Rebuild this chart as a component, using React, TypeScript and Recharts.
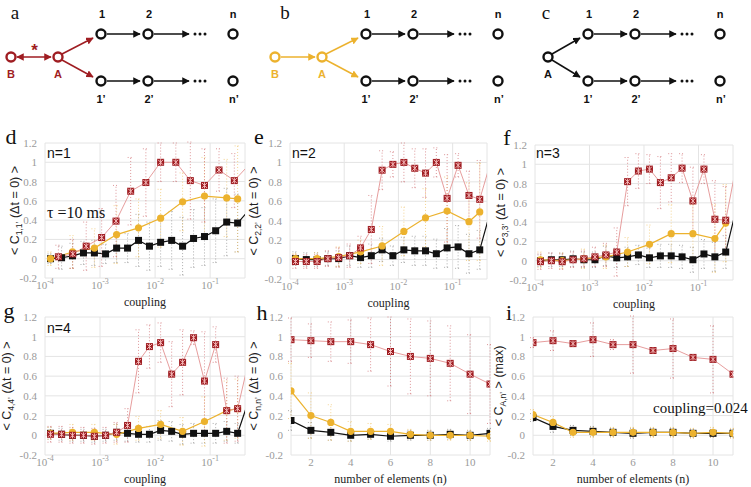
import React from "react";
import { LineChart, Line, XAxis, YAxis, CartesianGrid, ErrorBar } from "recharts";

const RED = "#9f1d22";
const RED_LINE = "#e39292";
const RED_BAR = "#cf6a6e";
const YELLOW = "#ecb22e";
const BLACK = "#111111";
const GRID = "#e4e4e4";
const TICK = "#9a9a9a";

const COUPLING_MAX = 0.43;

// tick labels
const couplingTicks = [1e-4, 1e-3, 1e-2, 1e-1];
const valueTicks = [-0.2, 0, 0.2, 0.4, 0.6, 0.8, 1, 1.2];
const elementTicks = [2, 4, 6, 8, 10];

// x values
const couplingGrid = [1.26e-4, 2e-4, 3.16e-4, 5e-4, 7.9e-4, 1.26e-3, 2e-3, 3.16e-3, 5e-3, 7.9e-3, 0.0126, 0.02, 0.0316, 0.05, 0.079, 0.126, 0.2, 0.316, 0.5];
const couplingHalf = [1.26e-4, 3.16e-4, 7.9e-4, 2e-3, 5e-3, 0.0126, 0.0316, 0.079, 0.2, 0.316];
const couplingRedD = [1.75e-4, 3.2e-4, 5.6e-4, 1.07e-3, 1.95e-3, 3.6e-3, 6.8e-3, 0.0126, 0.0238, 0.0437, 0.079, 0.145, 0.275, 0.5];
const elements = [1, 2, 3, 4, 5, 6, 7, 8, 9, 10, 11];

// d: n=1
const dBlack = [0.0, 0.01, 0.03, 0.06, 0.06, 0.05, 0.11, 0.11, 0.19, 0.13, 0.17, 0.19, 0.13, 0.21, 0.23, 0.29, 0.38, 0.37, 0.5];
const dBlackErr = [0.05, 0.12, 0.13, 0.12, 0.13, 0.1, 0.15, 0.15, 0.27, 0.25, 0.25, 0.3, 0.3, 0.3, 0.3, 0.33, 0.35, 0.3];
const dYellow = [0.0, 0.07, 0.11, 0.25, 0.32, 0.42, 0.59, 0.65, 0.63, 0.62];
const dYellowErr = [0.07, 0.17, 0.2, 0.3, 0.3, 0.3, 0.3, 0.4, 0.4, 0.55];
const dRed = [0.02, 0.05, 0.13, 0.22, 0.39, 0.7, 0.79, 1.0, 1.0, 0.81, 0.76, 0.92, 0.81, 0.97];
const dRedErr = [0.12, 0.15, 0.25, 0.3, 0.37, 0.35, 0.35, 0.2, 0.2, 0.4, 0.38, 0.22, 0.28];

// e: n=2
const eBlack = [0.01, 0.0, 0.0, 0.01, 0.01, 0.04, 0.02, 0.04, 0.1, 0.04, 0.1, 0.09, 0.09, 0.06, 0.12, 0.13, 0.06, 0.1, 0.5];
const eBlackErr = [0.07, 0.07, 0.07, 0.07, 0.08, 0.1, 0.1, 0.12, 0.12, 0.1, 0.13, 0.15, 0.15, 0.15, 0.2, 0.22, 0.2, 0.2];
const eYellow = [0.01, 0.01, 0.03, 0.08, 0.14, 0.29, 0.43, 0.5, 0.39, 0.49];
const eYellowErr = [0.05, 0.06, 0.1, 0.12, 0.2, 0.25, 0.3, 0.35, 0.4, 0.5];
const eRed = [-0.02, -0.02, -0.02, 0.01, 0.02, 0.04, 0.12, 0.31, 0.92, 0.98, 1.0, 0.94, 0.89, 1.0, 0.63, 0.97, 0.66, 0.62, 1.0];
const eRedErr = [0.07, 0.07, 0.07, 0.08, 0.1, 0.12, 0.12, 0.35, 0.2, 0.13, 0.2, 0.2, 0.25, 0.15, 0.45, 0.12, 0.25, 0.4];

// f: n=3
const fBlack = [0.0, 0.01, 0.01, 0.02, 0.01, 0.01, 0.05, 0.03, 0.04, 0.06, 0.03, 0.05, 0.05, 0.04, 0.01, 0.07, 0.04, 0.09, 0.55];
const fBlackErr = [0.06, 0.07, 0.07, 0.08, 0.08, 0.08, 0.1, 0.1, 0.1, 0.1, 0.1, 0.12, 0.12, 0.12, 0.13, 0.15, 0.15, 0.17];
const fYellow = [0.01, 0.0, 0.02, 0.04, 0.09, 0.17, 0.28, 0.28, 0.23, 0.39];
const fYellowErr = [0.08, 0.08, 0.1, 0.12, 0.15, 0.2, 0.3, 0.3, 0.35, 0.4];
const fRed = [-0.01, 0.0, -0.01, 0.01, 0.02, 0.04, 0.06, 0.09, 0.82, 0.93, 0.95, 0.81, 0.86, 0.96, 0.62, 0.95, 0.43, 0.42, 1.0];
const fRedErr = [0.08, 0.08, 0.08, 0.08, 0.08, 0.1, 0.12, 0.25, 0.25, 0.18, 0.15, 0.27, 0.25, 0.15, 0.35, 0.15, 0.4, 0.35];

// g: n=4
const gBlack = [0.02, 0.01, 0.0, 0.0, -0.01, 0.0, 0.03, 0.02, 0.01, 0.01, 0.05, 0.04, 0.01, 0.02, 0.02, 0.02, 0.04, 0.02, 0.35];
const gBlackErr = [0.06, 0.06, 0.06, 0.06, 0.06, 0.06, 0.08, 0.08, 0.08, 0.08, 0.1, 0.1, 0.1, 0.1, 0.1, 0.1, 0.1, 0.1];
const gYellow = [0.02, 0.03, 0.03, 0.01, 0.07, 0.11, 0.04, 0.14, 0.25, 0.27];
const gYellowErr = [0.06, 0.08, 0.08, 0.1, 0.12, 0.14, 0.14, 0.25, 0.3, 0.3];
const gRed = [0.01, 0.01, 0.0, 0.0, -0.01, 0.0, 0.03, 0.1, 0.75, 0.9, 0.94, 0.62, 0.74, 0.99, 0.55, 0.92, 0.25, 0.27, 0.75];
const gRedErr = [0.08, 0.08, 0.08, 0.08, 0.08, 0.08, 0.1, 0.17, 0.32, 0.22, 0.2, 0.33, 0.33, 0.07, 0.5, 0.18, 0.33, 0.33];

// h: vs number of elements
const hBlack = [0.15, 0.05, 0.03, 0.0, 0.01, -0.01, 0.0, 0.0, 0.01, 0.0, 0.02];
const hBlackErr = [0.1, 0.08, 0.08, 0.06, 0.05, 0.05, 0.05, 0.05, 0.05, 0.05, 0.05];
const hYellow = [0.45, 0.2, 0.13, 0.04, 0.04, 0.04, 0.01, 0.0, 0.0, 0.0, -0.01];
const hYellowErr = [0.28, 0.23, 0.18, 0.1, 0.08, 0.07, 0.05, 0.05, 0.05, 0.05, 0.05];
const hRed = [0.97, 0.96, 0.95, 0.95, 0.92, 0.85, 0.8, 0.78, 0.73, 0.62, 0.52];
const hRedErr = [0.22, 0.17, 0.2, 0.22, 0.27, 0.35, 0.38, 0.38, 0.38, 0.4, 0.4];

// i: max correlation with A, coupling = 0.024
const iBlack = [0.18, 0.09, 0.05, 0.04, 0.03, 0.02, 0.03, 0.03, 0.02, 0.02, 0.02];
const iBlackErr = [0.04, 0.06, 0.05, 0.05, 0.04, 0.05, 0.04, 0.04, 0.04, 0.04, 0.04];
const iYellow = [0.21, 0.13, 0.03, 0.03, 0.03, 0.03, 0.03, 0.03, 0.02, 0.03, 0.02];
const iYellowErr = [0.05, 0.06, 0.05, 0.05, 0.05, 0.05, 0.05, 0.05, 0.05, 0.05, 0.05];
const iRed = [0.94, 0.96, 0.93, 0.97, 0.92, 0.92, 0.86, 0.88, 0.79, 0.77, 0.62];
const iRedErr = [0.05, 0.1, 0.03, 0.17, 0.05, 0.29, 0.03, 0.3, 0.03, 0.34, 0.03];

type Row = { x: number; y: number; e: number };
const rows = (xs: number[], ys: number[], es: number[]): Row[] =>
  ys.map((y, i) => ({ x: xs[i], y, e: es[i] ?? 0 }));

const squareDot = (xMax: number) => (p: any) => {
  const { cx, cy, payload, index } = p;
  if (payload.x > xMax || cx == null) return <g key={index} />;
  return <rect key={index} x={cx - 3.5} y={cy - 3.5} width={7} height={7} fill={BLACK} />;
};
const circleDot = (xMax: number) => (p: any) => {
  const { cx, cy, payload, index } = p;
  if (payload.x > xMax || cx == null) return <g key={index} />;
  return <circle key={index} cx={cx} cy={cy} r={3.6} fill={YELLOW} />;
};
const starDot = (xMax: number) => (p: any) => {
  const { cx, cy, payload, index } = p;
  if (payload.x > xMax || cx == null) return <g key={index} />;
  return (
    <g key={index}>
      <rect x={cx - 3.5} y={cy - 3.5} width={7} height={7} fill={RED} />
      <path
        d={`M${cx - 2.5},${cy - 2.5}L${cx + 2.5},${cy + 2.5}M${cx - 2.5},${cy + 2.5}L${cx + 2.5},${cy - 2.5}M${cx},${cy - 3}L${cx},${cy + 3}`}
        stroke="#f4b9b9"
        strokeWidth={1}
      />
    </g>
  );
};

const LogTick = (props: any) => {
  const { x, y, payload } = props;
  const exp = Math.round(Math.log10(payload.value));
  return (
    <text x={x} y={y + 3} textAnchor="middle" fill={TICK} fontFamily="Liberation Serif" fontSize={11}>
      10<tspan dy={-5} fontSize={8}>{exp}</tspan>
    </text>
  );
};

const PlainTick = (props: any) => {
  const { x, y, payload } = props;
  return (
    <text x={x} y={y + 3} textAnchor="middle" fill={TICK} fontFamily="Liberation Serif" fontSize={11}>
      {payload.value}
    </text>
  );
};

const ValueTick = (props: any) => {
  const { x, y, payload } = props;
  return (
    <text x={x} y={y + 4} textAnchor="end" fill={TICK} fontFamily="Liberation Serif" fontSize={11}>
      {String(payload.value)}
    </text>
  );
};

// the axis never shows its lowest tick here, so that label is written beside the panel
const axisTicks = valueTicks.filter((v) => v >= 0);
const bottomTick = valueTicks[0];

type PanelProps = {
  plotLeft: number;
  plotTop: number;
  plotRight: number;
  plotBottom: number;
  log: boolean;
  black: Row[];
  yellow: Row[];
  red: Row[];
  sub: string;
  tail: string;
  yLabelX: number;
  xLabel: string;
};

function Panel(p: PanelProps) {
  const left = p.plotLeft - 45;
  const top = p.plotTop - 10;
  const width = p.plotRight + 6 - left;
  const height = p.plotBottom + 34 - top;
  const xMax = p.log ? COUPLING_MAX : 11;
  const lx = p.yLabelX - left;
  const ly = (p.plotTop + p.plotBottom) / 2 - top;
  const xx = (p.plotLeft + p.plotRight) / 2 - left;
  const xy = p.plotBottom + 28 - top;
  const xLabel = () => (
    <text x={xx} y={xy} textAnchor="middle" fontFamily="Liberation Serif" fontSize={12} fill="#222">
      {p.xLabel}
    </text>
  );
  return (
    <div style={{ position: "absolute", left, top, width, height }}>
      <LineChart width={width} height={height} margin={{ top: 10, right: 6, bottom: 4, left: 0 }}>
        <CartesianGrid stroke={GRID} />
        {p.log ? (
          <XAxis
            type="number"
            dataKey="x"
            scale="log"
            domain={[1e-4, COUPLING_MAX]}
            ticks={couplingTicks}
            interval={0}
            allowDataOverflow
            axisLine={false}
            tickLine={false}
            height={30}
            tick={<LogTick />}
            label={xLabel}
          />
        ) : (
          <XAxis
            type="number"
            dataKey="x"
            domain={[1, 11]}
            ticks={elementTicks}
            interval={0}
            allowDataOverflow
            axisLine={false}
            tickLine={false}
            height={30}
            tick={<PlainTick />}
            label={xLabel}
          />
        )}
        <YAxis
          type="number"
          domain={[-0.2, 1.2]}
          ticks={axisTicks}
          interval={0}
          allowDataOverflow
          axisLine={false}
          tickLine={false}
          width={45}
          tick={<ValueTick />}
          label={() => (
            <text
              transform={`translate(${lx},${ly}) rotate(-90)`}
              textAnchor="middle"
              fontFamily="Liberation Sans"
              fontSize={12.5}
              fill="#222"
            >
              {"< C"}
              <tspan dy={3} fontSize={8.5}>{p.sub}</tspan>
              <tspan dy={-3}>{p.tail}</tspan>
            </text>
          )}
        />
        <Line data={p.black} dataKey="y" stroke={BLACK} strokeWidth={1.2} dot={squareDot(xMax)} activeDot={false} isAnimationActive={false}>
          <ErrorBar dataKey="e" direction="y" width={3} stroke="#8a8a8a" strokeWidth={0.7} strokeDasharray="1 2" />
        </Line>
        <Line data={p.yellow} dataKey="y" stroke={YELLOW} strokeWidth={1.2} dot={circleDot(xMax)} activeDot={false} isAnimationActive={false}>
          <ErrorBar dataKey="e" direction="y" width={3} stroke="#efc264" strokeWidth={0.7} strokeDasharray="1 2" />
        </Line>
        <Line data={p.red} dataKey="y" stroke={RED_LINE} strokeWidth={0.9} dot={starDot(xMax)} activeDot={false} isAnimationActive={false}>
          <ErrorBar dataKey="e" direction="y" width={3} stroke={RED_BAR} strokeWidth={0.7} strokeDasharray="1 2" />
        </Line>
      </LineChart>
      <div
        style={{
          position: "absolute",
          left: 0,
          top: p.plotBottom - top - 8,
          width: 37,
          textAlign: "right",
          fontFamily: "Liberation Serif",
          fontSize: 11,
          lineHeight: "16px",
          color: TICK,
          zIndex: 2,
        }}
      >
        {String(bottomTick)}
      </div>
    </div>
  );
}

type NetProps = { dx: number; ax: number; color: string; marker: string; letter: string; letterX: number; link: "double" | "single" | "none" };

function Network({ dx, ax, color, marker, letter, letterX, link }: NetProps) {
  const ay = 57;
  const bx = ax - 47;
  const nx = [101 + dx, 148 + dx, 233 + dx];
  const dotsX = 200 + dx;
  const rowY = [34, 81];
  const bold = { fontFamily: "Liberation Sans", fontWeight: 700, fontSize: 11, textAnchor: "middle" as const };
  return (
    <g>
      <text x={letterX} y={19} fontFamily="Liberation Serif" fontSize={19} textAnchor="middle" fill="#111">{letter}</text>
      {link !== "none" && (
        <g>
          <line x1={bx + 6} y1={ay} x2={ax - 7} y2={ay} stroke={color} strokeWidth={1.5} markerEnd={`url(#${marker})`} markerStart={link === "double" ? `url(#${marker})` : undefined} />
          <circle cx={bx} cy={ay} r={4.5} fill="#fff" stroke={color} strokeWidth={2.4} />
          <text x={bx} y={78} {...bold} fill={color}>B</text>
        </g>
      )}
      {link === "double" && (
        <text x={(bx + ax) / 2} y={56} fontFamily="Liberation Sans" fontWeight={700} fontSize={17} textAnchor="middle" fill={color}>*</text>
      )}
      <line x1={ax + 4} y1={ay - 3} x2={nx[0] - 8} y2={rowY[0] + 4} stroke={color} strokeWidth={1.5} markerEnd={`url(#${marker})`} />
      <line x1={ax + 4} y1={ay + 3} x2={nx[0] - 8} y2={rowY[1] - 4} stroke={color} strokeWidth={1.5} markerEnd={`url(#${marker})`} />
      <circle cx={ax} cy={ay} r={4.5} fill="#fff" stroke={color} strokeWidth={2.4} />
      <text x={ax} y={78} {...bold} fill={color}>A</text>
      {rowY.map((y, r) => (
        <g key={r}>
          <line x1={nx[0] + 6} y1={y} x2={nx[1] - 8} y2={y} stroke={BLACK} strokeWidth={1.5} markerEnd="url(#arr-k)" />
          <line x1={nx[1] + 6} y1={y} x2={dotsX - 11} y2={y} stroke={BLACK} strokeWidth={1.5} markerEnd="url(#arr-k)" />
          {[-5, 0, 5].map((o) => (
            <circle key={o} cx={dotsX + o} cy={y} r={1.5} fill={BLACK} />
          ))}
          {nx.map((x) => (
            <circle key={x} cx={x} cy={y} r={4.5} fill="#fff" stroke={BLACK} strokeWidth={2.4} />
          ))}
        </g>
      ))}
      <text x={nx[0] + 1} y={18} {...bold} fill={BLACK}>1</text>
      <text x={nx[1] + 1} y={18} {...bold} fill={BLACK}>2</text>
      <text x={nx[2]} y={18} {...bold} fill={BLACK}>n</text>
      <text x={nx[0]} y={103} {...bold} fill={BLACK}>1’</text>
      <text x={nx[1] + 1} y={103} {...bold} fill={BLACK}>2’</text>
      <text x={nx[2] + 1} y={103} {...bold} fill={BLACK}>n’</text>
    </g>
  );
}

const arrowMarker = (id: string, color: string) => (
  <marker id={id} viewBox="0 0 10 10" refX={9} refY={5} markerWidth={5} markerHeight={5} orient="auto-start-reverse">
    <path d="M0,0 L10,5 L0,10 z" fill={color} />
  </marker>
);

export default function App() {
  const serifText = { fontFamily: "Liberation Serif", fill: "#111" };
  const sansText = { fontFamily: "Liberation Sans", fill: "#111" };
  return (
    <div style={{ position: "absolute", left: 0, top: 0, width: 751, height: 487, background: "#fff", overflow: "hidden" }}>
      <Panel plotLeft={45} plotTop={143} plotRight={245} plotBottom={278} log
        black={rows(couplingGrid, dBlack, dBlackErr)} yellow={rows(couplingHalf, dYellow, dYellowErr)} red={rows(couplingRedD, dRed, dRedErr)}
        sub="1,1’" tail=" (Δt = 0) >" yLabelX={19} xLabel="coupling" />
      <Panel plotLeft={290} plotTop={143} plotRight={487} plotBottom={279} log
        black={rows(couplingGrid, eBlack, eBlackErr)} yellow={rows(couplingHalf, eYellow, eYellowErr)} red={rows(couplingGrid, eRed, eRedErr)}
        sub="2,2’" tail=" (Δt = 0) >" yLabelX={258} xLabel="coupling" />
      <Panel plotLeft={535} plotTop={145} plotRight={733} plotBottom={280} log
        black={rows(couplingGrid, fBlack, fBlackErr)} yellow={rows(couplingHalf, fYellow, fYellowErr)} red={rows(couplingGrid, fRed, fRedErr)}
        sub="3,3’" tail=" (Δt = 0) >" yLabelX={505} xLabel="coupling" />
      <Panel plotLeft={45} plotTop={317} plotRight={245} plotBottom={455} log
        black={rows(couplingGrid, gBlack, gBlackErr)} yellow={rows(couplingHalf, gYellow, gYellowErr)} red={rows(couplingGrid, gRed, gRedErr)}
        sub="4,4’" tail=" (Δt = 0) >" yLabelX={11} xLabel="coupling" />
      <Panel plotLeft={291} plotTop={317} plotRight={490} plotBottom={455} log={false}
        black={rows(elements, hBlack, hBlackErr)} yellow={rows(elements, hYellow, hYellowErr)} red={rows(elements, hRed, hRedErr)}
        sub="n,n’" tail=" (Δt = 0) >" yLabelX={258} xLabel="number of elements (n)" />
      <Panel plotLeft={533} plotTop={317} plotRight={733} plotBottom={455} log={false}
        black={rows(elements, iBlack, iBlackErr)} yellow={rows(elements, iYellow, iYellowErr)} red={rows(elements, iRed, iRedErr)}
        sub="A,n’" tail=" > (max)" yLabelX={503} xLabel="number of elements (n)" />

      <svg width={751} height={487} style={{ position: "absolute", left: 0, top: 0, pointerEvents: "none" }}>
        <defs>
          {arrowMarker("arr-k", BLACK)}
          {arrowMarker("arr-r", RED)}
          {arrowMarker("arr-y", YELLOW)}
        </defs>
        <Network dx={0} ax={58} color={RED} marker="arr-r" letter="a" letterX={15} link="double" />
        <Network dx={265} ax={322} color={YELLOW} marker="arr-y" letter="b" letterX={285} link="single" />
        <Network dx={487} ax={548} color={BLACK} marker="arr-k" letter="c" letterX={546} link="none" />

        <text x={11} y={144} fontSize={22} {...serifText} textAnchor="middle">d</text>
        <text x={259} y={144} fontSize={22} {...serifText} textAnchor="middle">e</text>
        <text x={507} y={145} fontSize={22} {...serifText} textAnchor="middle">f</text>
        <text x={9} y={318} fontSize={22} {...serifText} textAnchor="middle">g</text>
        <text x={262} y={320} fontSize={22} {...serifText} textAnchor="middle">h</text>
        <text x={509} y={320} fontSize={22} {...serifText} textAnchor="middle">i</text>

        <text x={47} y={158} fontSize={14} {...sansText}>n=1</text>
        <text x={292} y={158} fontSize={14} {...sansText}>n=2</text>
        <text x={536} y={158} fontSize={14} {...sansText}>n=3</text>
        <text x={47} y={333} fontSize={14} {...sansText}>n=4</text>
        <text x={47} y={218} fontSize={16} {...serifText}>τ =10 ms</text>
        <text x={653} y={413} fontSize={15} {...serifText}>coupling=0.024</text>
      </svg>
    </div>
  );
}
